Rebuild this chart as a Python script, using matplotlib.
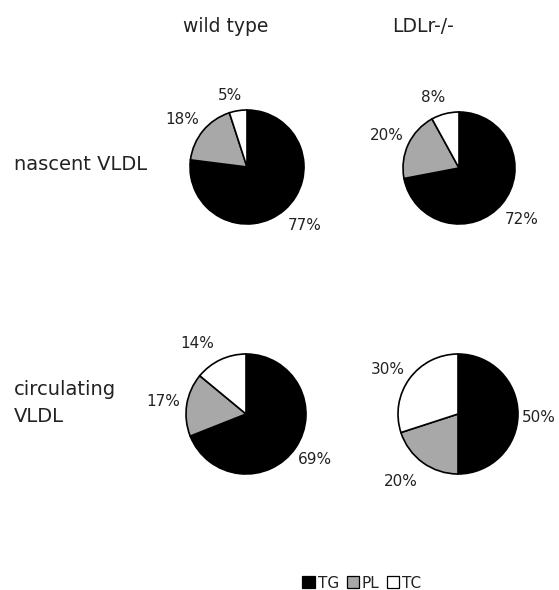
import matplotlib
matplotlib.use("Agg")
import matplotlib.pyplot as plt
from matplotlib.patches import Patch


# ==========================================================
# Data
# ==========================================================

components = ["TG", "PL", "TC"]
colors = ["#000000", "#a8a8a8", "#ffffff"]

groups = ["wild type", "LDLr-/-"]
fractions = ["nascent VLDL", "circulating\nVLDL"]

wt_nascent = [77, 18, 5]
ko_nascent = [72, 20, 8]
wt_circulating = [69, 17, 14]
ko_circulating = [50, 20, 30]


# ==========================================================
# Layout (pixel coordinates, origin top-left)
# ==========================================================

pies = [
    # values, center, radius, label positions
    (wt_nascent, (247, 167), 57, [(305, 225), (182, 120), (230, 95)]),
    (ko_nascent, (459, 168), 56, [(522, 219), (387, 136), (433, 98)]),
    (wt_circulating, (246, 414), 60, [(315, 459), (163, 402), (197, 343)]),
    (ko_circulating, (458, 414), 60, [(539, 417), (401, 481), (388, 369)]),
]

text_color = "#222222"

fig = plt.figure(figsize=(5.59, 5.90), dpi=100)
ax = fig.add_axes([0, 0, 1, 1])

for values, center, radius, label_pos in pies:

    # y axis is flipped later, so counterclock=True ends up clockwise on screen
    ax.pie(
        values,
        colors=colors,
        startangle=-90,
        counterclock=True,
        center=center,
        radius=radius,
        wedgeprops=dict(edgecolor="black", linewidth=1.2),
        frame=True,
    )

    for v, (x, y) in zip(values, label_pos):
        ax.text(x, y, f"{v}%", ha="center", va="center",
                fontsize=11, color=text_color)

ax.set_xlim(0, 559)
ax.set_ylim(590, 0)
ax.set_aspect("equal")
ax.axis("off")

# column headers
ax.text(226, 27, groups[0], ha="center", va="center",
        fontsize=13.5, color=text_color)
ax.text(423, 27, groups[1], ha="center", va="center",
        fontsize=13.5, color=text_color)

# row labels
ax.text(14, 165, fractions[0], ha="left", va="center",
        fontsize=14, color=text_color)
ax.text(14, 403, fractions[1], ha="left", va="center",
        fontsize=14, color=text_color, linespacing=1.5)

# legend
handles = [
    Patch(facecolor=c, edgecolor="black", linewidth=0.9, label=n)
    for c, n in zip(colors, components)
]

fig.legend(
    handles=handles,
    loc="center",
    bbox_to_anchor=(362 / 559, 1 - 583 / 590),
    ncol=3,
    frameon=False,
    fontsize=11,
    handlelength=0.8,
    handleheight=0.8,
    handletextpad=0.2,
    columnspacing=0.5,
    labelcolor=text_color,
)

fig.savefig("out.png", dpi=100)
